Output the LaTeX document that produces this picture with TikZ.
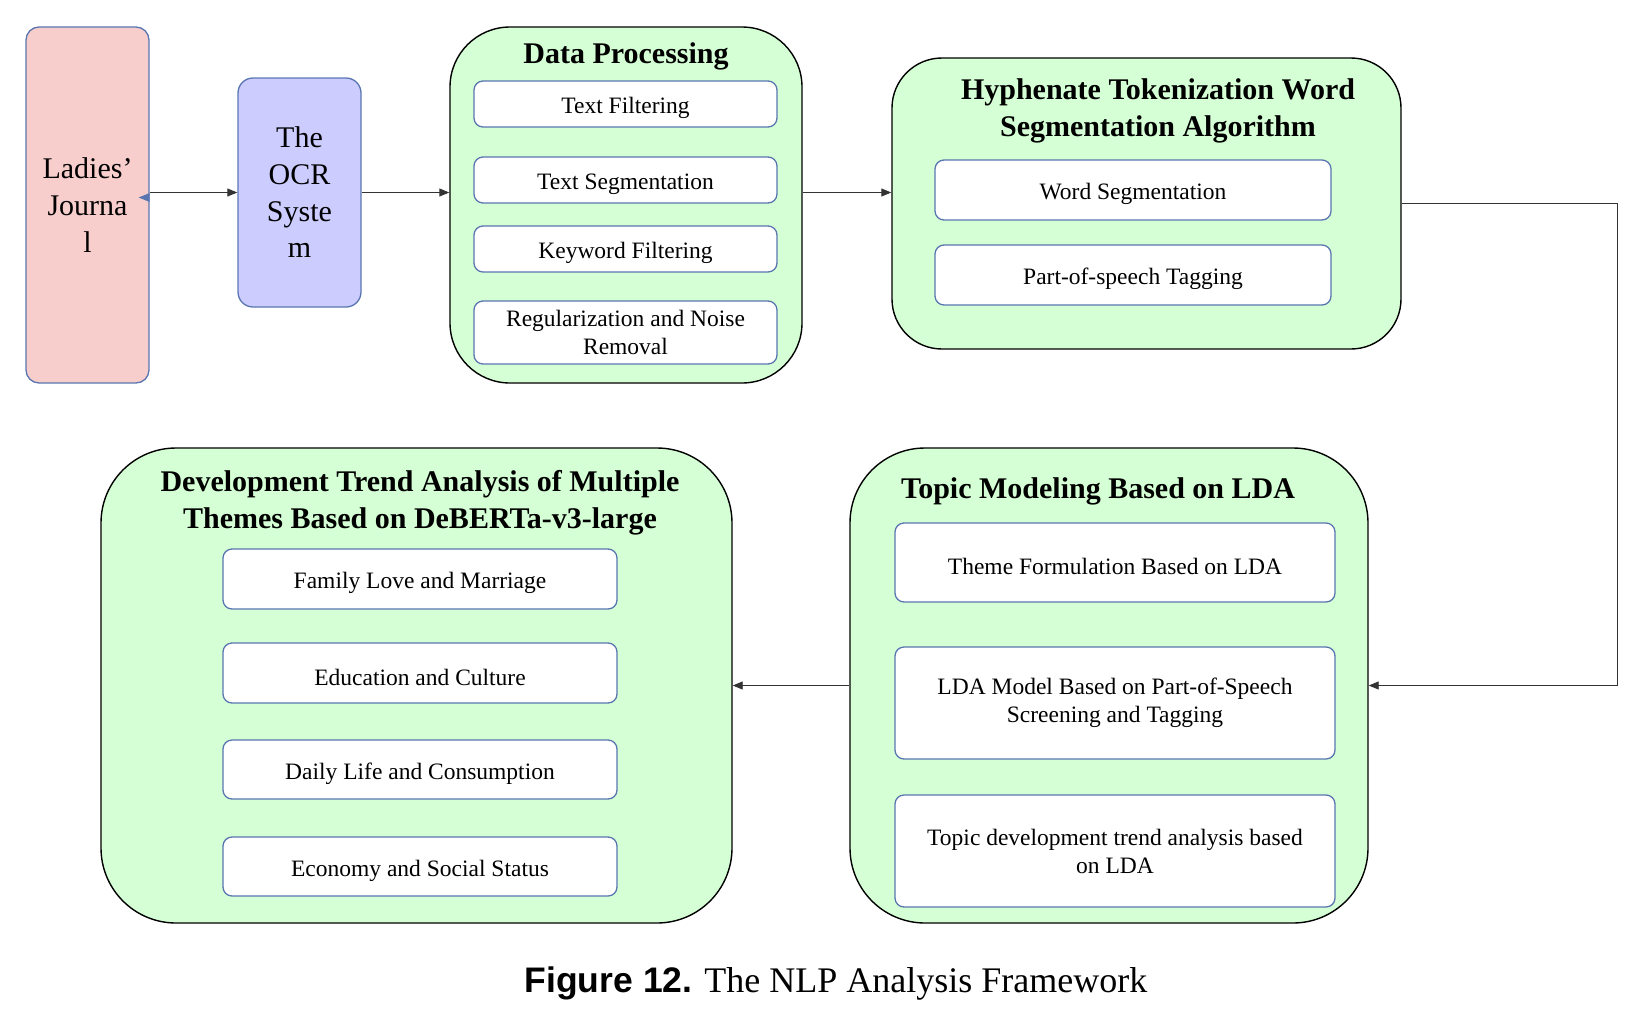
\documentclass[tikz,border=0pt]{standalone}
\usepackage{fontspec}
\setmainfont{Liberation Serif}
\newfontfamily\capsans{Liberation Sans}
\usetikzlibrary{arrows.meta}
\definecolor{groupgreen}{HTML}{D5FFD4}
\definecolor{journalpink}{HTML}{F8CECC}
\definecolor{ocrblue}{HTML}{CCCCFF}
\definecolor{edgeblue}{HTML}{5A76B0}
\newcommand{\grouphead}{\fontsize{30}{37}\selectfont\bfseries}
\newcommand{\stepfont}{\fontsize{23.5}{28}\selectfont\rule{0pt}{25pt}}

\begin{document}
\begin{tikzpicture}[x=1pt,y=-1pt,
    group/.style={draw=black,line width=1.4pt,fill=groupgreen,inner sep=0pt},
    stepbox/.style 2 args={draw=edgeblue,line width=1.3pt,fill=white,rounded corners=9pt,
      inner sep=0pt,minimum width=#1,minimum height=#2,align=center,font=\stepfont},
    source/.style={draw=edgeblue,line width=1.3pt,inner sep=0pt,align=center,
      font=\fontsize{30}{36.7}\selectfont},
    flow/.style={-{Triangle[length=10pt,width=8pt]},line width=0.9pt,draw=black!80}]
      \useasboundingbox (0,0) rectangle (1636,1026);
      % input side
      \node[source,fill=journalpink,rounded corners=13pt,minimum width=123,minimum height=356] (journal) at (87.5,205) {Ladies’\\Journa\\l};
      \node[source,fill=ocrblue,rounded corners=15pt,minimum width=123,minimum height=229] (ocr) at (299.5,192.5) {The\\OCR\\Syste\\m};
      \fill[edgeblue] ([yshift=7.5pt]journal.east) ++(0,-4.5) -- ++(0,9) -- ++(-11,-4.5) -- cycle;
      % data processing
      \node[group,rounded corners=60pt,minimum width=352,minimum height=356] (dp) at (626,205) {};
      \node[font=\grouphead] (dptitle) at (626,56) {Data Processing};
      \node[stepbox={303}{46}] (tf) at (625.5,104) {Text Filtering};
      \node[stepbox={303}{46}] (ts) at (625.5,180) {Text Segmentation};
      \node[stepbox={303}{46}] (kf) at (625.5,249) {Keyword Filtering};
      \node[stepbox={303}{63}] (rn) at (625.5,332.5) {Regularization and Noise\\Removal};
      % word segmentation
      \node[group,rounded corners=50pt,minimum width=509,minimum height=291] (hy) at (1146.5,203.5) {};
      \node[font=\grouphead,align=center] (hytitle) at (1158,111) {Hyphenate Tokenization Word\\Segmentation Algorithm};
      \node[stepbox={396}{60}] (ws) at (1133,190) {Word Segmentation};
      \node[stepbox={396}{60}] (pos) at (1133,275) {Part-of-speech Tagging};
      % topic modelling
      \node[group,rounded corners=75pt,minimum width=518,minimum height=475] (topic) at (1109,685.5) {};
      \node[font=\grouphead] (topictitle) at (1098,491) {Topic Modeling Based on LDA};
      \node[stepbox={440}{79}] (theme) at (1115,562.5) {Theme Formulation Based on LDA};
      \node[stepbox={440}{112}] (ldam) at (1115,703) {LDA Model Based on Part-of-Speech\\Screening and Tagging};
      \node[stepbox={440}{112}] (tdev) at (1115,851) {Topic development trend analysis based\\on LDA};
      % trend analysis
      \node[group,rounded corners=75pt,minimum width=631,minimum height=475] (dev) at (416.5,685.5) {};
      \node[font=\grouphead,align=center] (devtitle) at (420,502.5) {Development Trend Analysis of Multiple\\Themes Based on DeBERTa-v3-large};
      \node[stepbox={394}{60}] (fam) at (420,579) {Family Love and Marriage};
      \node[stepbox={394}{60}] (edu) at (420,673) {Education and Culture};
      \node[stepbox={394}{59}] (daily) at (420,769.5) {Daily Life and Consumption};
      \node[stepbox={394}{59}] (econ) at (420,866.5) {Economy and Social Status};
      % connectors
      \coordinate (turn) at (1617,203.5);
      \path (journal.east |- ocr.west) edge[flow] (ocr.west);
      \path (ocr) edge[flow] (dp.west |- ocr);
      \path (dp.east |- ocr) edge[flow] (hy.west |- ocr);
      \draw[flow] (hy.east) -- (turn) |- (topic.east);
      \path (topic) edge[flow] (dev);
      \node[anchor=base,font=\fontsize{36}{40}\selectfont] (caption) at (836,992) {{\capsans\bfseries\fontsize{35.5}{40}\selectfont Figure 12.} The NLP Analysis Framework};
    \end{tikzpicture}
\end{document}
